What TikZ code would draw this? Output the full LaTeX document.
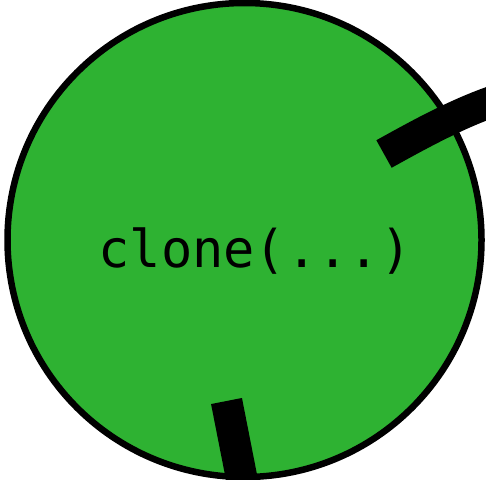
\documentclass[tikz,border=0pt]{standalone}
\usepackage{fontspec}
\newfontfamily\monofont{DejaVu Sans Mono}
\definecolor{nodegreen}{RGB}{46,178,50}
\tikzset{
  edgeline/.style={line width=31.5pt, line cap=butt, black},
  circnode/.style={circle, draw=black, line width=6.5pt, fill=nodegreen, minimum size=474pt, inner sep=0pt},
}
\begin{document}
\begin{tikzpicture}[x=1pt,y=-1pt]
\useasboundingbox (0,0) rectangle (486,479);
\clip (0,0) rectangle (486,479);
\node[circnode] (c) at (244.5,240) {};
\node[anchor=base, font=\monofont\fontsize{52}{60}\selectfont] (t) at (255,267) {clone(...)};
\coordinate (a1) at (384,154);
\coordinate (a2) at (500,99);
\draw[edgeline] (a1) .. controls (420,134) and (460,112) .. (a2);
\coordinate (b1) at (226.5,401);
\coordinate (b2) at (245,495);
\draw[edgeline] (b1) -- (b2);
\end{tikzpicture}
\end{document}
